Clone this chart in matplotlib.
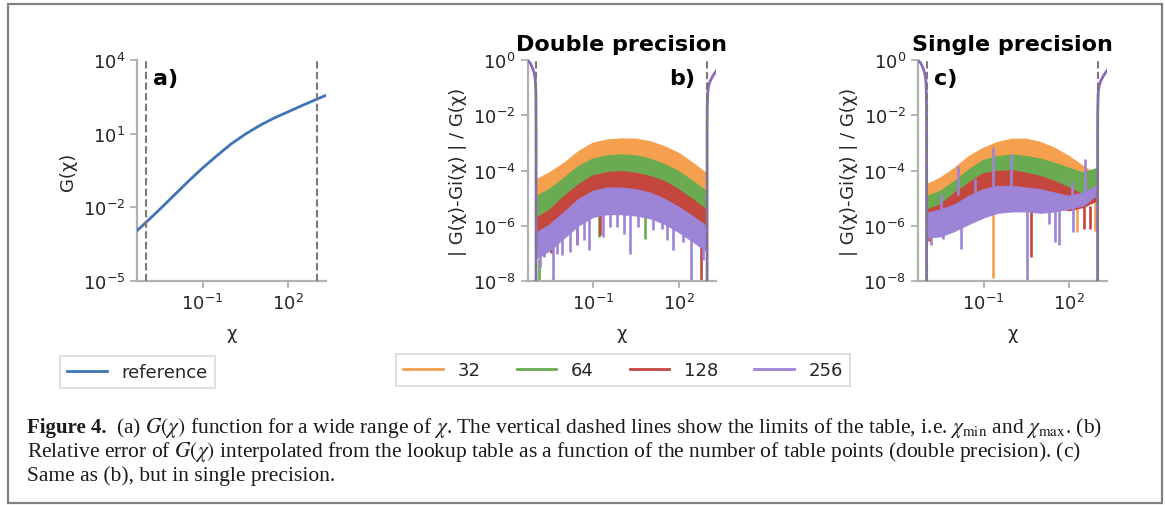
import numpy as np
import matplotlib.pyplot as plt
from matplotlib.patches import Rectangle
from matplotlib.lines import Line2D

W, H = 1165, 506

# ---- panel a: reference G(chi) (log10 values)
ref_logchi = [-3.30, -3.0, -2.5, -2.0, -1.5, -1.0, -0.5, 0.0, 0.5, 1.0,
              1.5, 2.0, 2.5, 3.0, 3.35]
ref_logG = [-2.95, -2.63, -2.08, -1.51, -0.94, -0.40, 0.10, 0.58, 0.98, 1.33,
            1.63, 1.89, 2.15, 2.40, 2.57]

chi_min, chi_max = 1e-3, 1e3

sizes = ['32', '64', '128', '256']
colors = ['#f5a04e', '#6aab52', '#c4473e', '#9d84d6']
edge_color = '#8d68bd'

# ---- panels b, c: band edges of the relative error (log10)
knots = [-2.98, -2.5, -2.0, -1.5, -1.0, -0.5, 0.0, 0.5, 1.0, 1.5, 2.0, 2.5, 2.98]

dbl_top_32 = [-4.36, -4.10, -3.76, -3.34, -3.04, -2.92, -2.88, -2.89, -2.98, -3.16, -3.40, -3.76, -4.14]
dbl_top_64 = [-4.96, -4.70, -4.30, -3.88, -3.61, -3.49, -3.46, -3.49, -3.61, -3.80, -4.06, -4.42, -4.78]
dbl_top_128 = [-5.75, -5.45, -4.96, -4.54, -4.22, -4.10, -4.06, -4.12, -4.24, -4.42, -4.72, -5.08, -5.45]
dbl_top_256 = [-6.29, -5.99, -5.54, -5.08, -4.78, -4.66, -4.66, -4.72, -4.84, -5.06, -5.35, -5.69, -6.05]
dbl_bot_256 = [-7.20, -6.90, -6.45, -6.00, -5.70, -5.60, -5.60, -5.65, -5.75, -5.95, -6.25, -6.60, -6.95]

sgl_top_32 = [-4.54, -4.30, -3.94, -3.52, -3.22, -3.01, -2.89, -2.89, -3.01, -3.22, -3.52, -3.88, -4.18]
sgl_top_64 = [-4.96, -4.78, -4.42, -4.00, -3.66, -3.52, -3.46, -3.52, -3.61, -3.76, -3.94, -4.12, -3.95]
sgl_top_128 = [-5.45, -5.27, -4.84, -4.48, -4.14, -4.06, -4.03, -4.12, -4.24, -4.42, -4.66, -4.90, -4.96]
sgl_top_256 = [-5.57, -5.45, -5.27, -4.96, -4.72, -4.60, -4.60, -4.66, -4.72, -4.84, -4.96, -4.84, -4.60]
sgl_bot_256 = [-6.45, -6.40, -6.20, -5.95, -5.72, -5.55, -5.50, -5.50, -5.55, -5.50, -5.40, -5.28, -4.90]

# spikes: (log chi, from, to), log10 values
dbl_spikes_256 = [(-2.86, -7.0, -7.49), (-2.72, -6.8, -7.13), (-2.41, -6.6, -7.95),
                  (-2.26, -6.5, -7.01), (-2.08, -6.3, -7.07), (-1.81, -6.1, -6.95),
                  (-1.56, -5.9, -6.71), (-1.33, -5.8, -6.53), (-1.15, -5.7, -6.89),
                  (-0.65, -5.5, -6.41), (-0.42, -5.5, -6.05), (-0.16, -5.5, -6.05),
                  (0.09, -5.5, -6.29), (0.30, -5.5, -7.01), (0.56, -5.6, -6.05),
                  (1.11, -5.7, -6.17), (1.41, -5.8, -6.11), (1.58, -5.9, -6.53),
                  (1.81, -6.0, -6.89), (2.16, -6.2, -6.59), (2.43, -6.4, -7.98),
                  (2.86, -6.8, -7.25)]
dbl_spikes_128 = [(-2.49, -6.6, -7.0), (-1.56, -6.0, -6.65), (-0.74, -5.6, -6.35),
                  (2.80, -6.7, -7.98)]
dbl_spikes_64 = [(-2.88, -7.2, -7.98), (-0.80, -5.6, -6.41), (0.82, -5.6, -6.47)]

sgl_spikes_256 = [(-2.49, -5.4, -4.84), (-1.90, -4.9, -3.85), (-1.30, -4.8, -4.30),
                  (-0.68, -4.6, -3.15), (-0.05, -4.6, -3.40), (2.10, -4.9, -4.40),
                  (2.57, -4.8, -3.60), (0.53, -5.4, -8.00), (-1.79, -5.9, -6.83),
                  (-2.43, -6.2, -6.47), (-2.84, -6.3, -6.70), (1.52, -5.4, -6.58),
                  (2.15, -5.3, -6.22), (1.29, -5.4, -5.93), (1.64, -5.4, -6.71)]
sgl_spikes_128 = [(0.65, -5.2, -7.13), (2.51, -5.3, -6.11), (2.75, -5.3, -6.11),
                  (-2.90, -6.3, -6.55)]
sgl_spikes_32 = [(-0.66, -5.5, -7.90), (2.28, -5.2, -6.23), (2.90, -4.9, -6.20)]

# outside the table the error goes up to ~1
left_logchi = [-3.30, -3.20, -3.13, -3.07, -3.03, -3.015, -3.005, -3.0, -3.0]
left_logE = [0.0, -0.12, -0.27, -0.45, -0.69, -0.95, -1.3, -2.5, -9.0]
right_logchi = [3.0, 3.0, 3.005, 3.02, 3.05, 3.10, 3.20, 3.33]
right_logE = [-9.0, -2.5, -1.8, -1.2, -0.95, -0.78, -0.58, -0.38]

XLIM = (10 ** -3.30, 10 ** 3.33)
spine_c = '#b0b0b0'
text_c = '#262626'

plt.rcParams['font.family'] = 'DejaVu Sans'
plt.rcParams['mathtext.fontset'] = 'stix'

fig = plt.figure(figsize=(W / 100, H / 100), dpi=100)


def style(ax):
    ax.set_xscale('log')
    ax.set_yscale('log')
    ax.set_xlim(*XLIM)
    for s in ['top', 'right']:
        ax.spines[s].set_visible(False)
    for s in ['left', 'bottom']:
        ax.spines[s].set_color(spine_c)
        ax.spines[s].set_linewidth(1.6)
    ax.tick_params(which='major', labelsize=13, color=spine_c, labelcolor=text_c,
                   length=5, width=1.3)
    ax.tick_params(which='minor', length=0)
    ax.set_xticks([1e-1, 1e2])
    ax.set_xlabel('χ', fontsize=13, color=text_c, labelpad=8)
    for v in (chi_min, chi_max):
        ax.axvline(v, color='#7a7a7a', lw=1.5, dashes=(3.5, 1.6), zorder=5)


def to_pow(v):
    return 10 ** np.asarray(v, dtype=float)


axw, axh = 189 / W, 221 / H
bottom = 1 - 282 / H

# ---- a)
ax_a = fig.add_axes([137 / W, bottom, axw, axh])
style(ax_a)
ax_a.plot(to_pow(ref_logchi), to_pow(ref_logG), color='#3f74b5', lw=2, zorder=3)
ax_a.set_ylim(1e-5, 1e4)
ax_a.set_yticks([1e-5, 1e-2, 1e1, 1e4])
ax_a.set_ylabel('G(χ)', fontsize=13, color=text_c)
ax_a.text(0.085, 0.891, 'a)', transform=ax_a.transAxes, fontsize=16,
          fontweight='bold', va='baseline')


def draw_errors(ax, tops, bot, spikes):
    x = to_pow(knots)
    lows = [tops[1], tops[2], [t - 0.5 for t in tops[3]], bot]
    for i in range(4):
        ax.fill_between(x, to_pow(lows[i]), to_pow(tops[i]), color=colors[i],
                        lw=0, zorder=2 + i * 0.1)
        ax.plot(x, to_pow(tops[i]), color=colors[i], lw=1.8, zorder=2 + i * 0.1)
    for i, sp in spikes:
        for lc, y0, y1 in sp:
            ax.vlines(10 ** lc, 10 ** y0, 10 ** y1, color=colors[i], lw=1.9,
                      zorder=2.05 + i * 0.1)
    ax.plot(to_pow(left_logchi), to_pow(left_logE), color=edge_color, lw=2, zorder=3)
    ax.plot(to_pow(right_logchi), to_pow(right_logE), color=edge_color, lw=2, zorder=3)
    ax.set_ylim(1e-8, 1e0)
    ax.set_yticks([1e-8, 1e-6, 1e-4, 1e-2, 1e0])
    ax.set_ylabel('| G(χ)-Gi(χ) | / G(χ)', fontsize=13, color=text_c)


# ---- b)
ax_b = fig.add_axes([527.5 / W, bottom, axw, axh])
style(ax_b)
draw_errors(ax_b, [dbl_top_32, dbl_top_64, dbl_top_128, dbl_top_256], dbl_bot_256,
            [(1, dbl_spikes_64), (2, dbl_spikes_128), (3, dbl_spikes_256)])
ax_b.set_title('Double precision', fontsize=16, fontweight='bold', pad=7)
ax_b.text(0.749, 0.891, 'b)', transform=ax_b.transAxes, fontsize=16,
          fontweight='bold', va='baseline')

# ---- c)
ax_c = fig.add_axes([918 / W, bottom, axw, axh])
style(ax_c)
draw_errors(ax_c, [sgl_top_32, sgl_top_64, sgl_top_128, sgl_top_256], sgl_bot_256,
            [(0, sgl_spikes_32), (2, sgl_spikes_128), (3, sgl_spikes_256)])
ax_c.set_title('Single precision', fontsize=16, fontweight='bold', pad=7)
ax_c.text(0.085, 0.891, 'c)', transform=ax_c.transAxes, fontsize=16,
          fontweight='bold', va='baseline')

# ---- legends
leg_kw = dict(fontsize=13, frameon=True, fancybox=False, edgecolor='#dddddd',
              framealpha=1, borderaxespad=0, handlelength=2.2, loc='upper left')
lg1 = fig.legend([Line2D([], [], color='#3f74b5', lw=2)], ['reference'],
                 bbox_to_anchor=(60 / W, 1 - 357 / H), **leg_kw)
lg2 = fig.legend([Line2D([], [], color=c, lw=2) for c in colors], sizes, ncol=4,
                 bbox_to_anchor=(396 / W, 1 - 355 / H), columnspacing=2.0, **leg_kw)
for lg in (lg1, lg2):
    lg.get_frame().set_linewidth(1.3)
    for t in lg.get_texts():
        t.set_color(text_c)

# ---- caption
cap_kw = dict(fontsize=15.5, family='Liberation Serif', color='#1a1a1a', va='baseline')
fig.text(27 / W, 1 - 433 / H, 'Figure 4.', fontweight='bold',
         **{**cap_kw, 'fontsize': 15})
fig.text(116 / W, 1 - 433 / H,
         r'(a) $G(\chi)$ function for a wide range of $\chi$. The vertical dashed lines '
         r'show the limits of the table, i.e. $\chi_{\rm min}$ and $\chi_{\rm max}$. (b)',
         **cap_kw)
fig.text(27 / W, 1 - 457 / H,
         r'Relative error of $G(\chi)$ interpolated from the lookup table as a function of '
         r'the number of table points (double precision). (c)', **cap_kw)
fig.text(27 / W, 1 - 481 / H, 'Same as (b), but in single precision.', **cap_kw)

fig.patches.append(Rectangle((8 / W, 1 - 504 / H), (1161.5 - 8) / W, (504 - 5) / H,
                             transform=fig.transFigure, fill=False,
                             edgecolor='#808080', lw=1.6))

fig.savefig('out.png', dpi=100)
